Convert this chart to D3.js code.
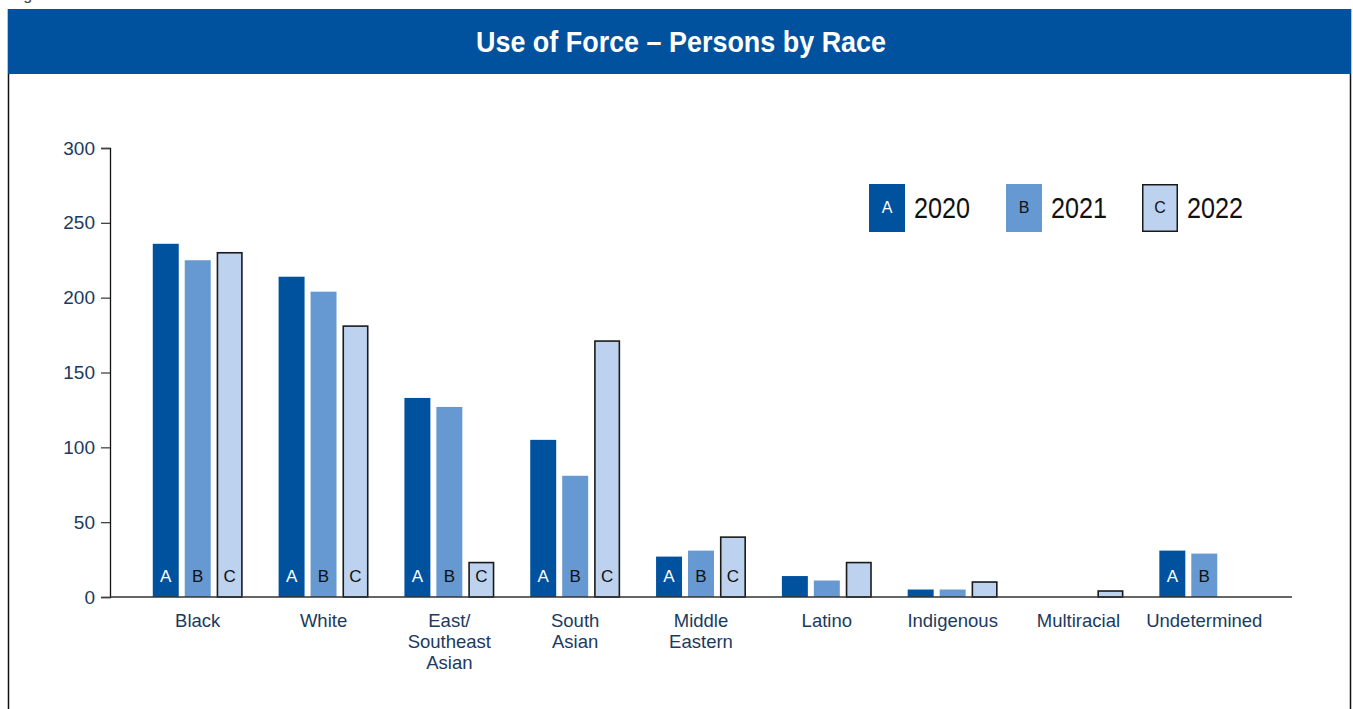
<!DOCTYPE html>
<html>
<head>
<meta charset="utf-8">
<script src="https://cdn.jsdelivr.net/npm/d3@7"></script>
<style>
  html, body { margin: 0; padding: 0; background: #fff; }
  svg { display: block; }
</style>
</head>
<body>
<div id="chart"></div>
<script>
// Use of Force - Persons by Race, grouped bars 2020/2021/2022
const width = 1353, height = 709;
const margin = {top: 148, right: 61, bottom: 112, left: 110};
const fontFamily = "'Liberation Sans', Arial, sans-serif";
const navy = "#1b3a5e";

const categories = ["Black", "White", "East/ Southeast Asian", "South Asian", "Middle Eastern",
  "Latino", "Indigenous", "Multiracial", "Undetermined"];
const categoryLines = [["Black"], ["White"], ["East/", "Southeast", "Asian"], ["South", "Asian"],
  ["Middle", "Eastern"], ["Latino"], ["Indigenous"], ["Multiracial"], ["Undetermined"]];
const years = ["2020", "2021", "2022"];
const letters = ["A", "B", "C"];
const values2020 = [236, 214, 133, 105, 27, 14, 5, 0, 31];
const values2021 = [225, 204, 127, 81, 31, 11, 5, 0, 29];
const values2022 = [230, 181, 23, 171, 40, 23, 10, 4, null];
const labelledCategories = ["Black", "White", "East/ Southeast Asian", "South Asian", "Middle Eastern", "Undetermined"];
const yTicks = [0, 50, 100, 150, 200, 250, 300];

const seriesValues = [values2020, values2021, values2022];
const fills = ["#00529f", "#6699d1", "#bcd2ee"];
const letterFill = ["#ffffff", "#111111", "#111111"];

const svg = d3.select("#chart").append("svg")
  .attr("width", width).attr("height", height).attr("viewBox", `0 0 ${width} ${height}`);

// caption clipped by the top edge, as in the source page
svg.append("text").attr("x", 10).attr("y", 0).attr("font-family", fontFamily)
  .attr("font-size", 16).attr("fill", "#444").text("Figure 3.6");

// frame + header
svg.append("path").attr("d", `M8.5,9 V${height} M1350.5,9 V${height}`)
  .attr("stroke", "#111").attr("stroke-width", 1.5).attr("fill", "none");
svg.append("rect").attr("x", 8).attr("y", 9).attr("width", 1343).attr("height", 65).attr("fill", "#00529f");
svg.append("text").attr("x", 476).attr("y", 52)
  .attr("font-family", fontFamily).attr("font-weight", "bold").attr("font-size", 30)
  .attr("textLength", 410).attr("lengthAdjust", "spacingAndGlyphs")
  .attr("fill", "#fff").text("Use of Force \u2013 Persons by Race");

const x0 = d3.scaleBand().domain(categories)
  .range([margin.left, width - margin.right]).paddingInner(0.2857).paddingOuter(0.34);
const x1 = d3.scaleBand().domain(years).range([0, x0.bandwidth()]).paddingInner(0.1875).paddingOuter(0);
const y = d3.scaleLinear().domain([0, 300]).range([height - margin.bottom, margin.top]);

// y axis
const yAxis = svg.append("g").attr("transform", `translate(${margin.left},0)`)
  .call(d3.axisLeft(y).tickValues(yTicks).tickSize(9).tickPadding(6));
yAxis.select(".domain").attr("stroke", "#111").attr("stroke-width", 1.3);
yAxis.selectAll(".tick line").attr("stroke", "#444").attr("stroke-width", 1.3);
yAxis.selectAll(".tick text").attr("font-family", fontFamily).attr("font-size", 19).attr("fill", navy);

// bars
const rows = categories.map((c, i) => ({cat: c, vals: years.map((yr, s) => ({year: yr, s, v: seriesValues[s][i], cat: c}))}));
const groups = svg.append("g").selectAll("g").data(rows).join("g")
  .attr("transform", d => `translate(${x0(d.cat)},0)`);

groups.selectAll("rect").data(d => d.vals.filter(v => v.v != null && v.v > 0)).join("rect")
  .attr("x", d => x1(d.year) + (d.s === 2 ? 0.75 : 0))
  .attr("y", d => y(d.v))
  .attr("width", d => x1.bandwidth() - (d.s === 2 ? 1.5 : 0))
  .attr("height", d => y(0) - y(d.v))
  .attr("fill", d => fills[d.s])
  .attr("stroke", d => d.s === 2 ? "#1a1a1a" : "none")
  .attr("stroke-width", 1.6);

groups.selectAll("text.letter")
  .data(d => labelledCategories.includes(d.cat) ? d.vals.filter(v => v.v != null && v.v > 0) : [])
  .join("text").attr("class", "letter")
  .attr("x", d => x1(d.year) + x1.bandwidth() / 2)
  .attr("y", height - margin.bottom - 15)
  .attr("text-anchor", "middle")
  .attr("font-family", fontFamily).attr("font-size", 17)
  .attr("fill", d => letterFill[d.s])
  .text(d => letters[d.s]);

// x baseline
svg.append("line").attr("x1", margin.left).attr("x2", width - margin.right)
  .attr("y1", y(0)).attr("y2", y(0)).attr("stroke", "#333").attr("stroke-width", 1.5);

// category labels
const catLabels = svg.append("g").selectAll("text").data(categories).join("text")
  .attr("x", d => x0(d) + x0.bandwidth() / 2)
  .attr("y", y(0) + 30)
  .attr("text-anchor", "middle")
  .attr("font-family", fontFamily).attr("font-size", 18.5).attr("fill", navy);
catLabels.each(function (d, i) {
  const t = d3.select(this);
  categoryLines[i].forEach((line, j) => {
    t.append("tspan").attr("x", t.attr("x")).attr("dy", j === 0 ? 0 : 21).text(line);
  });
});

// legend
const legendX = [869, 1006, 1142];
const legend = svg.append("g");
years.forEach((yr, s) => {
  const g = legend.append("g").attr("transform", `translate(${legendX[s]},184)`);
  g.append("rect").attr("x", s === 2 ? 0.75 : 0).attr("y", s === 2 ? 0.75 : 0)
    .attr("width", s === 2 ? 34.5 : 36).attr("height", s === 2 ? 46.5 : 48)
    .attr("fill", fills[s]).attr("stroke", s === 2 ? "#1a1a1a" : "none").attr("stroke-width", 1.5);
  g.append("text").attr("x", 18).attr("y", 29).attr("text-anchor", "middle")
    .attr("font-family", fontFamily).attr("font-size", 16).attr("fill", letterFill[s]).text(letters[s]);
  g.append("text").attr("x", 45).attr("y", 34)
    .attr("font-family", fontFamily).attr("font-size", 30)
    .attr("textLength", 56).attr("lengthAdjust", "spacingAndGlyphs")
    .attr("fill", "#111").text(yr);
});
</script>
</body>
</html>
